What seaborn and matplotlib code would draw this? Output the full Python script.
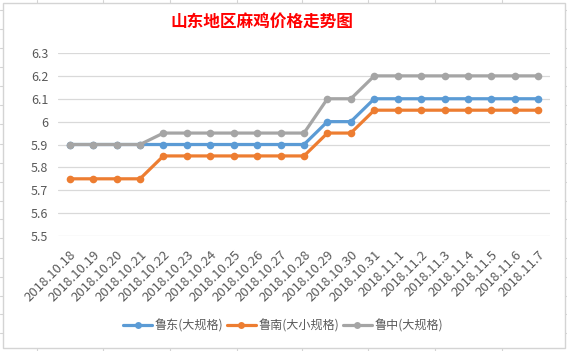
import matplotlib
matplotlib.use("Agg")
import matplotlib.pyplot as plt
import seaborn as sns
import pandas as pd
from matplotlib.lines import Line2D
from matplotlib.patches import Rectangle

# === Dati ===
dates = ["2018.10.18", "2018.10.19", "2018.10.20", "2018.10.21", "2018.10.22",
         "2018.10.23", "2018.10.24", "2018.10.25", "2018.10.26", "2018.10.27",
         "2018.10.28", "2018.10.29", "2018.10.30", "2018.10.31", "2018.11.1",
         "2018.11.2", "2018.11.3", "2018.11.4", "2018.11.5", "2018.11.6", "2018.11.7"]
ludong = [5.9, 5.9, 5.9, 5.9, 5.9, 5.9, 5.9, 5.9, 5.9, 5.9, 5.9,
          6.0, 6.0, 6.1, 6.1, 6.1, 6.1, 6.1, 6.1, 6.1, 6.1]
lunan = [5.75, 5.75, 5.75, 5.75, 5.85, 5.85, 5.85, 5.85, 5.85, 5.85, 5.85,
         5.95, 5.95, 6.05, 6.05, 6.05, 6.05, 6.05, 6.05, 6.05, 6.05]
luzhong = [5.9, 5.9, 5.9, 5.9, 5.95, 5.95, 5.95, 5.95, 5.95, 5.95, 5.95,
           6.1, 6.1, 6.2, 6.2, 6.2, 6.2, 6.2, 6.2, 6.2, 6.2]
series_names = ["鲁东(大规格)", "鲁南(大小规格)", "鲁中(大规格)"]
yticks = [5.5, 5.6, 5.7, 5.8, 5.9, 6.0, 6.1, 6.2, 6.3]
ytick_labels = ["5.5", "5.6", "5.7", "5.8", "5.9", "6", "6.1", "6.2", "6.3"]
colors = ["#5B9BD5", "#ED7D31", "#A5A5A5"]

rows = []
for name, vals in zip(series_names, [ludong, lunan, luzhong]):
    for i, v in enumerate(vals):
        rows.append({"pos": i, "data": dates[i], "prezzo": v, "serie": name})
df = pd.DataFrame(rows)

# === Figura ===
sns.set_style("white")
plt.rcParams["font.family"] = ["Noto Sans CJK SC", "DejaVu Sans"]

fig = plt.figure(figsize=(5.67, 3.51), dpi=100)
W, H = 567, 351

# cornice stile Excel
fig.patches.append(Rectangle((3 / W, 1 - 348 / H), 562 / W, 345 / H, transform=fig.transFigure,
                             fill=False, edgecolor="#D4D4D4", linewidth=1.0))
for xc in [37, 103, 170, 237, 302, 368, 435, 502]:
    fig.lines.append(Line2D([xc / W, xc / W], [1, 1 - 3 / H], transform=fig.transFigure,
                            color="#D4D4D4", linewidth=0.8))
    fig.lines.append(Line2D([xc / W, xc / W], [0, 3 / H], transform=fig.transFigure,
                            color="#D4D4D4", linewidth=0.8))
for yc in [10, 29, 48, 67, 86, 105, 124, 144, 163, 182, 201, 219, 238, 258, 277, 296, 314, 333]:
    fig.lines.append(Line2D([0, 3 / W], [1 - yc / H, 1 - yc / H], transform=fig.transFigure,
                            color="#D4D4D4", linewidth=0.8))
    fig.lines.append(Line2D([565 / W, 1], [1 - yc / H, 1 - yc / H], transform=fig.transFigure,
                            color="#D4D4D4", linewidth=0.8))

ax = fig.add_axes([58 / W, 1 - 236 / H, 492 / W, 183 / H])
sns.lineplot(data=df, x="pos", y="prezzo", hue="serie", palette=colors, marker="o",
             markersize=5.5, markeredgewidth=0, linewidth=2.3, ax=ax, legend=False)

ax.set_xlim(-0.5, len(dates) - 0.5)
ax.set_ylim(5.5, 6.3)
ax.set_yticks(yticks)
ax.set_yticklabels(ytick_labels, fontsize=9, color="#595959")
ax.set_xticks(range(len(dates)))
ax.set_xticklabels(dates, rotation=45, ha="right", rotation_mode="anchor",
                   fontsize=9.5, color="#595959")
ax.tick_params(axis="x", length=0, pad=9)
ax.tick_params(axis="y", length=0, pad=7)
ax.yaxis.grid(True, color="#D9D9D9", linewidth=0.9)
ax.set_axisbelow(True)
for s in ax.spines.values():
    s.set_visible(False)
ax.set_xlabel("")
ax.set_ylabel("")

fig.text(262 / W, 1 - 22 / H, "山东地区麻鸡价格走势图", color="#FF0000", fontsize=12,
         fontweight="bold", ha="center", va="center")

handles = [Line2D([0], [0], color=c, marker="o", markersize=5, linewidth=2.3, markeredgewidth=0)
           for c in colors]
fig.legend(handles, series_names, loc="center", bbox_to_anchor=(283 / W, 1 - 326 / H), ncol=3,
           frameon=False, fontsize=8.7, handlelength=2.4, columnspacing=0.3, handletextpad=0.2,
           labelcolor="#595959")

plt.savefig("out.png", dpi=100)
plt.close()
